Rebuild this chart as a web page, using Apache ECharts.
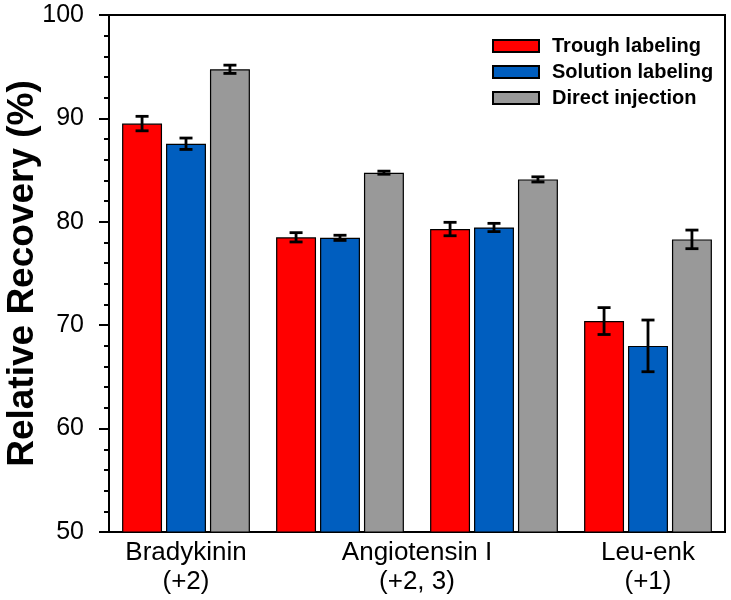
<!DOCTYPE html>
<html>
<head>
<meta charset="utf-8">
<script src="https://cdn.jsdelivr.net/npm/echarts@6/dist/echarts.min.js"></script>
<style>html,body{margin:0;padding:0;background:#fff;}#c{width:731px;height:600px;}</style>
</head>
<body>
<div id="c"></div>
<script>
const categories = ['Bradykinin (+2)', 'Angiotensin I (+2)', 'Angiotensin I (+3)', 'Leu-enk (+1)'];
const seriesNames = ['Trough labeling', 'Solution labeling', 'Direct injection'];
const seriesColors = ['#ff0000', '#005ebf', '#999999'];
const trough = [89.5, 78.5, 79.3, 70.4];
const troughErr = [0.7, 0.45, 0.65, 1.3];
const solution = [87.55, 78.45, 79.45, 68.0];
const solutionErr = [0.55, 0.25, 0.4, 2.5];
const direct = [94.75, 84.75, 84.1, 78.3];
const directErr = [0.4, 0.15, 0.25, 0.9];
const labelPositions = [0.5, 2, 3.5];
const labelTexts = ['Bradykinin\n(+2)', 'Angiotensin I\n(+2, 3)', 'Leu-enk\n(+1)'];

const values = [trough, solution, direct];
const errors = [troughErr, solutionErr, directErr];
const CAT_GAP = 0.17, BAR_GAP = 0.10, NS = 3;
const FONT = 'Liberation Sans, Arial, sans-serif';

const series = [];
values.forEach((vals, k) => {
  series.push({
    name: seriesNames[k], type: 'bar', xAxisIndex: 0, data: vals,
    barCategoryGap: (CAT_GAP * 100) + '%', barGap: (BAR_GAP * 100) + '%',
    itemStyle: { color: seriesColors[k], borderColor: '#000', borderWidth: 1.2 }
  });
});
values.forEach((vals, k) => {
  series.push({
    type: 'custom', xAxisIndex: 0, z: 5, silent: true,
    data: vals.map((v, i) => [i, v, errors[k][i]]),
    renderItem: function (params, api) {
      const i = api.value(0), v = api.value(1), e = api.value(2);
      const band = api.size([1, 0])[0];
      const usable = band * (1 - CAT_GAP);
      const bw = usable / (NS + (NS - 1) * BAR_GAP);
      const c = api.coord([i, v]);
      const x = c[0] - usable / 2 + k * bw * (1 + BAR_GAP) + bw / 2;
      const yt = api.coord([i, v + e])[1];
      const yb = api.coord([i, v - e])[1];
      const hw = 6.5;
      const st = { stroke: '#000', lineWidth: 2.8 };
      return { type: 'group', children: [
        { type: 'line', shape: { x1: x, y1: yt, x2: x, y2: yb }, style: st },
        { type: 'line', shape: { x1: x - hw, y1: yt, x2: x + hw, y2: yt }, style: st },
        { type: 'line', shape: { x1: x - hw, y1: yb, x2: x + hw, y2: yb }, style: st }
      ]};
    }
  });
});

const chart = echarts.init(document.getElementById('c'));
chart.setOption({
  animation: false,
  grid: { left: 109, right: 6, top: 15, bottom: 68, outerBoundsMode: 'none', containLabel: false,
          show: true, borderColor: '#000', borderWidth: 2, backgroundColor: 'transparent' },
  legend: {
    data: seriesNames, orient: 'vertical', left: 487, top: 31,
    itemWidth: 46, itemHeight: 12, itemGap: 6, icon: 'rect',
    textStyle: { fontFamily: FONT, fontWeight: 'bold', fontSize: 20, lineHeight: 20, color: '#000', padding: [0, 0, 0, 8] }
  },
  xAxis: [
    { type: 'category', data: categories, axisLine: { show: true, lineStyle: { color: '#000', width: 2 } },
      axisTick: { show: false }, axisLabel: { show: false } },
    { type: 'value', min: 0, max: 4, interval: 0.5, position: 'bottom',
      axisLine: { show: false }, axisTick: { show: false }, splitLine: { show: false },
      axisLabel: { show: true, margin: 6, fontFamily: FONT, fontSize: 26, lineHeight: 29, color: '#000',
        formatter: function (val) { const j = labelPositions.indexOf(val); return j >= 0 ? labelTexts[j] : ''; } } }
  ],
  yAxis: {
    type: 'value', min: 50, max: 100, interval: 10,
    name: 'Relative Recovery (%)', nameLocation: 'middle', nameGap: 68, nameRotate: 90,
    nameMoveOverlap: false,
    nameTextStyle: { fontFamily: FONT, fontWeight: 'bold', fontSize: 37, color: '#000' },
    axisLine: { show: true, lineStyle: { color: '#000', width: 2 } },
    axisTick: { show: true, inside: false, length: 10, lineStyle: { color: '#000', width: 2 } },
    minorTick: { show: true, splitNumber: 5, length: 5, lineStyle: { color: '#000', width: 2 } },
    splitLine: { show: false },
    axisLabel: { margin: 25, fontFamily: FONT, fontSize: 25, color: '#000' }
  },
  series: series
});
</script>
</body>
</html>
